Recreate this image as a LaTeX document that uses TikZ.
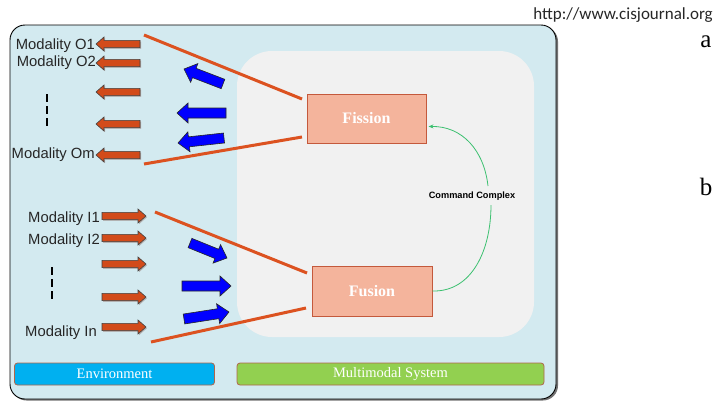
\documentclass[tikz,border=0pt]{standalone}
\usepackage{fontspec}
\setmainfont{Liberation Serif}
\setsansfont{Liberation Sans}
\newfontfamily\calibfont{Carlito}
\newfontfamily\serifletter{Liberation Serif}
\usetikzlibrary{calc,arrows.meta}
\definecolor{outerbg}{HTML}{D3EAF0}
\definecolor{innerbg}{HTML}{F1F1F1}
\definecolor{boxfill}{HTML}{F4B49C}
\definecolor{boxdraw}{HTML}{C4593C}
\definecolor{arrOr}{HTML}{D24B1A}
\definecolor{lineOr}{HTML}{DC5220}
\definecolor{envblue}{HTML}{00B0F0}
\definecolor{sysgreen}{HTML}{92D050}
\definecolor{bardraw}{HTML}{B0654A}
\definecolor{ccgreen}{HTML}{3CC070}
\newcommand\blockarr[6]{%
  \coordinate (ba-h) at ($(#3)!#6!(#2)$);
  \path[#1] ($(#2)!#4!90:(#3)$) -- ($(ba-h)!#4!90:(#3)$) -- ($(ba-h)!#5!90:(#3)$) -- (#3)
    -- ($(ba-h)!#5!-90:(#3)$) -- ($(ba-h)!#4!-90:(#3)$) -- ($(#2)!#4!-90:(#3)$) -- cycle;
}
\tikzset{
  modlabel/.style={inner sep=0pt, font=\sffamily\fontsize{14.8}{16}\selectfont, text=black!85},
  procbox/.style={draw=boxdraw, line width=1pt, fill=boxfill, minimum width=119pt, minimum height=49pt,
    font=\rmfamily\bfseries\fontsize{16}{18}\selectfont, text=white},
  barbox/.style={draw=bardraw, line width=0.8pt, rounded corners=3pt, minimum height=22pt,
    font=\rmfamily\fontsize{14.5}{16}\selectfont, text=white},
  orarrow/.style={fill=arrOr, draw=black!75, line width=0.6pt},
  orshadow/.style={fill=black!30},
  bluearrow/.style={fill=blue, draw=black!85, line width=0.6pt},
  redline/.style={draw=lineOr, line width=3pt},
  dashcol/.style={draw=black, line width=2pt, dash pattern=on 8pt off 4pt},
  ccline/.style={draw=ccgreen, line width=0.8pt}
}
\begin{document}
\begin{tikzpicture}[x=1pt,y=-1pt]
\useasboundingbox (0,0) rectangle (713,400);
% outer box
\fill[black!55, rounded corners=15pt] (11.5,26.5) rectangle (558,400.5);
\draw[fill=outerbg, draw=black, line width=0.9pt, rounded corners=15pt] (10,25) rectangle (556,399);
% inner area
\fill[innerbg, rounded corners=35pt] (237,51) rectangle (534,337);
% header texts
\node[anchor=base east, inner sep=0pt, font=\calibfont\fontsize{17}{19}\selectfont, text=black!85] (url) at (713,19) {http://www.cisjournal.org};
\node[anchor=base, inner sep=0pt, font=\serifletter\fontsize{25}{28}\selectfont] (la) at (706,47) {a};
\node[anchor=base, inner sep=0pt, font=\serifletter\fontsize{25}{28}\selectfont] (lb) at (706,195) {b};
% process boxes
\node[procbox] (fis) at (366.5,118.5) {Fission};
\node[procbox, minimum width=120pt, minimum height=50pt] (fus) at (372,291) {Fusion};
% bars
\node[barbox, fill=envblue, minimum width=200pt] (env) at (114.5,374) {Environment};
\node[barbox, fill=sysgreen, minimum width=307pt] (sys) at (390.5,374) {Multimodal System};
% red lines
\coordinate (r1) at (144,35);
\coordinate (r2) at (144,164);
\coordinate (r3) at (155,212);
\coordinate (r4) at (151,342);
\coordinate (f1) at (302,99);
\coordinate (f2) at (302,137);
\coordinate (u1) at (307,273);
\coordinate (u2) at (306,308);
\draw[redline] (r1) -- (f1);
\draw[redline] (r2) -- (f2);
\draw[redline] (r3) -- (u1);
\draw[redline] (r4) -- (u2);
% orange output arrows
\foreach \y in {44,63,92,124,155}{
  \blockarr{orshadow}{141,\y+1.2}{97,\y+1.2}{3.6pt}{7pt}{8pt}
  \blockarr{orarrow}{140,\y}{96,\y}{3.6pt}{7pt}{8pt}
}
% orange input arrows
\foreach \y in {216,238,264,297,327}{
  \blockarr{orshadow}{103,\y+1.2}{147,\y+1.2}{3.6pt}{7pt}{8pt}
  \blockarr{orarrow}{102,\y}{146,\y}{3.6pt}{7pt}{8pt}
}
% blue arrows
\blockarr{bluearrow}{223,84}{184,69}{5pt}{10pt}{11pt}
\blockarr{bluearrow}{226,113}{177,113}{5pt}{10pt}{11pt}
\blockarr{bluearrow}{224,138}{178,143}{5pt}{10pt}{11pt}
\blockarr{bluearrow}{190,243}{227,258}{5pt}{10pt}{11pt}
\blockarr{bluearrow}{182,286}{231,286}{5pt}{10pt}{11pt}
\blockarr{bluearrow}{184,319}{229,312}{5pt}{10pt}{11pt}
% labels
\node[modlabel, anchor=base east] (mo1) at (95,49.5) {Modality O1};
\node[modlabel, anchor=base east] (mo2) at (96,66.5) {Modality O2};
\node[modlabel, anchor=base east] (mom) at (95,158.5) {Modality Om};
\node[modlabel, anchor=base east] (mi1) at (100,222) {Modality I1};
\node[modlabel, anchor=base east] (mi2) at (100,244) {Modality I2};
\node[modlabel, anchor=base east] (min) at (97,336) {Modality In};
% dashes
\coordinate (d1a) at (47,94);
\coordinate (d1b) at (47,127);
\coordinate (d2a) at (52,267);
\coordinate (d2b) at (52,299);
\draw[dashcol] (d1a) -- (d1b);
\draw[dashcol] (d2a) -- (d2b);
% command complex
\node[inner sep=0pt, font=\sffamily\bfseries\fontsize{9.2}{10}\selectfont] (cc) at (472,196) {Command Complex};
\coordinate (c1) at (491,205);
\coordinate (c2) at (488,186);
\coordinate (fin) at ($(fis.south east)+(2,-17)$);
\draw[ccline] (fus.east) .. controls (472,292) and (491,250) .. (c1);
\draw[ccline, -{Stealth[length=5pt,width=4pt]}] (c2) .. controls (484,150) and (462,126) .. (fin);
\end{tikzpicture}
\end{document}
